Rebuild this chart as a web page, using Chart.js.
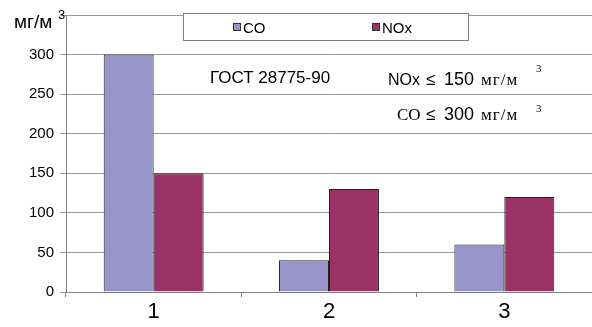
<!DOCTYPE html>
<html>
<head>
<meta charset="utf-8">
<script src="https://cdn.jsdelivr.net/npm/chart.js@4"></script>
<style>
  html, body { margin: 0; padding: 0; background: #fff; }
  #wrap { width: 592px; height: 327px; position: relative; }
</style>
</head>
<body>
<div id="wrap"><canvas id="chart"></canvas></div>
<script>
// Chart data
const categories = ['1', '2', '3'];
const seriesNames = ['CO', 'NOx'];
const coValues = [300, 40, 60];
const noxValues = [150, 130, 120];
const yTicks = [0, 50, 100, 150, 200, 250, 300, 350];

const FONT = "'Liberation Sans', Arial, sans-serif";
const SERIF = "'Liberation Serif', 'Times New Roman', serif";

// Legend box + text notes drawn over the plot, like the Excel original
const overlayPlugin = {
    id: 'overlay',
    afterDraw(chart) {
        const ctx = chart.ctx;
        ctx.save();
        ctx.textBaseline = 'alphabetic';

        // unit label at top of the y axis
        ctx.fillStyle = '#000';
        ctx.font = '19px ' + FONT;
        ctx.fillText('мг/м', 14, 28);
        ctx.font = '13px ' + FONT;
        ctx.fillText('3', 58, 19);

        // legend box
        ctx.fillStyle = '#fff';
        ctx.fillRect(183.5, 13.5, 285, 27);
        ctx.strokeStyle = '#808080';
        ctx.lineWidth = 1;
        ctx.strokeRect(183.5, 13.5, 285, 27);
        const items = [[233, 0], [372, 1]];
        ctx.font = '15px ' + FONT;
        items.forEach(([x, i]) => {
            const ds = chart.data.datasets[i];
            ctx.fillStyle = ds.backgroundColor;
            ctx.fillRect(x + 0.5, 23.5, 7, 7);
            ctx.strokeStyle = '#333';
            ctx.strokeRect(x + 0.5, 23.5, 7, 7);
            ctx.fillStyle = '#000';
            ctx.fillText(ds.label, x + 10, 33);
        });

        // standard notes: [text, font, x, baseline, letter spacing]
        const notes = [
            ['ГОСТ 28775-90', '17px ' + FONT, 210, 83],
            ['NOx', '16px ' + FONT, 388, 85],
            ['≤', '17px ' + FONT, 426, 85],
            ['150', '18px ' + FONT, 444, 85],
            ['мг/м', '17px ' + SERIF, 481, 85, '1px'],
            ['3', '11px ' + SERIF, 536, 72],
            ['CO', '17px ' + SERIF, 397, 120],
            ['≤', '17px ' + FONT, 426, 120],
            ['300', '18px ' + FONT, 444, 120],
            ['мг/м', '17px ' + SERIF, 481, 120, '1px'],
            ['3', '11px ' + SERIF, 536, 112]
        ];
        ctx.fillStyle = '#000';
        notes.forEach(([txt, font, x, y, ls]) => {
            ctx.font = font;
            ctx.letterSpacing = ls || '0px';
            ctx.fillText(txt, x, y);
        });
        ctx.restore();
    }
};

new Chart(document.getElementById('chart'), {
    type: 'bar',
    data: {
        labels: categories,
        datasets: [{
            label: seriesNames[0],
            data: coValues,
            backgroundColor: '#9595c9',
            borderColor: '#222',
            borderWidth: 1
        }, {
            label: seriesNames[1],
            data: noxValues,
            backgroundColor: '#993366',
            borderColor: '#222',
            borderWidth: 1
        }]
    },
    options: {
        responsive: true,
        maintainAspectRatio: false,
        animation: false,
        layout: { padding: { top: 12, right: 0, left: 0, bottom: 0 } },
        plugins: {
            legend: { display: false },
            tooltip: { enabled: false }
        },
        datasets: {
            bar: { categoryPercentage: 0.57, barPercentage: 1.0 }
        },
        scales: {
            x: {
                offset: true,
                grid: {
                    offset: true,
                    drawOnChartArea: false,
                    drawTicks: true,
                    tickLength: 5,
                    color: '#808080'
                },
                border: { color: '#808080' },
                ticks: {
                    color: '#000',
                    font: { family: FONT, size: 22 },
                    padding: 2
                },
                afterFit(scale) { scale.height = 35; }
            },
            y: {
                min: 0,
                max: 350,
                afterBuildTicks(scale) {
                    scale.ticks = yTicks.map(v => ({ value: v }));
                },
                grid: {
                    color: '#9a9a9a',
                    tickLength: 6
                },
                border: { color: '#808080' },
                ticks: {
                    color: '#000',
                    font: { family: FONT, size: 15 },
                    padding: 6,
                    callback: v => (v === 350 ? ' ' : v)
                },
                afterFit(scale) { scale.width = 66; }
            }
        }
    },
    plugins: [overlayPlugin]
});
</script>
</body>
</html>
